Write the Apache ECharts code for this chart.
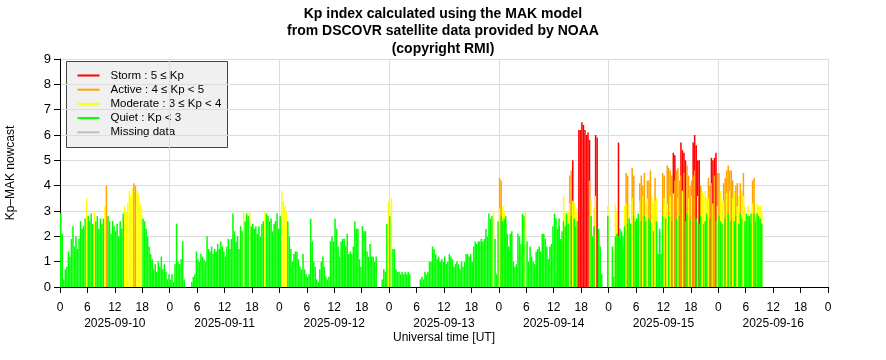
<!DOCTYPE html>
<html><head><meta charset="utf-8">
<script src="https://cdn.jsdelivr.net/npm/echarts@6/dist/echarts.min.js"></script>
<style>html,body{margin:0;padding:0;background:#fff}#c{width:886px;height:360px}</style>
</head><body><div id="c"></div>
<script>
// Kp-MAK nowcast, 20-minute bins (3 per hour), one array per UT day; null = no data
const dayLabels = ['2025-09-10','2025-09-11','2025-09-12','2025-09-13','2025-09-14','2025-09-15','2025-09-16'];
const hourTickLabels = ['0','6','12','18'];
const binsPerHour = 3;

// highest sample in each 20-minute bin
const kp_0910 = [
2.9,2.1,0.3, 0.7,0.8,1.4, 1.2,1.9,2.4, 1.6,2.0,1.5, 1.9,2.6,2.3, 2.4,2.7,3.5,
2.8,2.6,2.9, 2.5,3.0,2.6, 2.8,2.3,2.7, 2.5,2.7,3.2, 4.0,2.8,2.6, 2.1,2.6,2.4,
2.2,2.5,2.0, 2.6,2.3,2.9, 3.2,3.0,3.3, 3.8,3.6,3.9, 4.1,4.0,3.8, 3.7,3.3,3.1,
2.7,2.6,2.3, 2.0,1.6,1.3, 1.1,0.7,0.9, 0.6,1.0,0.8, 1.2,0.7,0.9, 0.6,0.3,0.5];
const kp_0911 = [
0.3,0.5,0.2, 0.9,2.5,1.0, 0.9,1.1,1.8, 0.3,null,null, null,null,0.2, 0.4,0.5,1.4,
1.1,1.0,1.3, 1.2,1.1,1.0, 2.0,1.5,1.4, 1.6,1.3,1.5, 1.4,1.7,1.5, 1.8,1.6,1.4,
1.2,1.6,1.9, 1.5,1.9,2.9, 2.2,1.8,2.0, 1.5,2.4,2.2, 3.0,2.6,2.9, 2.8,3.0,2.4,
2.5,2.3,2.4, 2.1,2.4,2.0, 2.5,2.6,3.0, 2.9,2.8,2.6, 2.7,2.2,2.5, 2.6,2.9,2.3];
const kp_0912 = [
2.8,3.8,3.4, 3.2,3.0,2.6, 2.0,1.5,1.0, 1.3,1.4,1.4, 1.1,0.8,0.7, 1.3,0.7,0.5,
0.4,0.5,2.7, 1.8,1.0,0.8, 0.3,0.2,0.7, 1.0,1.2,0.8, 0.4,0.3,0.4, 1.8,2.0,1.8,
2.7,2.3,1.6, 1.2,1.8,1.9, 1.9,1.6,2.1, 1.3,1.4,1.3, 1.6,2.6,2.3, 2.3,1.1,0.8,
2.4,2.2,2.2, 1.4,1.2,1.7, 1.2,1.2,1.0, 1.2,null,null, null,0.3,0.7, 0.6,2.5,3.4];
const kp_0913 = [
2.8,3.5,1.5, 1.5,0.7,0.6, 0.6,0.5,0.6, 0.5,0.6,0.5, 0.6,0.5,null, null,null,null,
null,null,0.3, 0.4,0.3,0.6, 0.5,0.6,1.0, 1.0,1.6,1.5, 1.3,1.1,1.2, 1.0,1.1,1.0,
1.2,0.9,1.0, 1.3,1.2,1.1, 0.8,0.9,1.0, 0.9,0.7,1.0, 0.8,1.0,1.3, 1.3,1.2,1.3,
1.0,1.6,1.8, 1.7,1.8,1.8, 1.9,1.8,1.9, 2.3,2.0,2.9, 2.7,2.8,3.0, 1.9,0.5,2.6];
const kp_0914 = [
4.3,4.2,3.2, 3.0,2.8,2.1, 1.6,2.1,2.2, 1.0,0.8,0.9, 2.1,2.0,1.7, 2.9,2.8,3.0,
1.8,1.0,1.6, 1.2,1.0,0.9, 1.4,1.5,1.6, 1.4,2.1,2.1, 1.9,1.6,1.1, 1.6,1.7,2.4,
2.9,2.7,2.3, 2.7,1.9,2.2, 3.6,3.0,2.9, 3.0,4.4,4.6, 5.0,3.3,3.0, 3.1,6.2,6.2,
6.5,6.4,6.2, 6.0,6.1,5.8, 3.5,2.0,3.1, 6.0,5.9,2.3, 1.6,0.5,null, null,null,3.2];
const kp_0915 = [
null,null,1.6, 0.4,3.3,3.0, 5.7,2.3,2.2, 2.0,3.2,4.5, 4.4,3.3,2.5, 4.7,4.4,3.0,
2.5,2.3,4.1, 4.4,4.0,4.5, 3.3,4.2,4.2, 4.6,3.6,3.3, 4.3,3.5,1.3, 2.3,1.3,4.5,
4.4,3.0,4.8, 4.7,4.6,4.4, 5.3,5.2,4.6, 4.7,4.2,5.7, 5.4,5.3,5.0, 4.8,4.4,4.0,
4.2,5.7,6.0, 5.6,5.0,5.0, 4.0,3.8,3.6, 3.8,3.5,4.3, 4.0,5.1,5.0, 5.1,5.3,4.5];
const kp_0916 = [
4.5,3.8,3.4, 4.1,4.3,4.6, 4.8,4.6,4.6, 4.2,3.8,4.0, 4.1,3.6,4.1, 3.8,4.5,3.2,
2.9,3.2,2.8, 2.9,4.2,4.3, 3.0,3.3,3.2, 3.2,3.0];

// last sample in each bin (drawn over the bin's highest sample); null = same as highest
const kpLast_0914 = [
3.1,2.8,2.6, 2.7,2.5,null, null,null,null, null,null,null, null,null,null, null,null,null,
null,null,null, null,null,null, null,null,null, null,null,null, null,null,null, null,null,null,
null,null,null, 2.4,null,1.8, 2.6,2.4,2.2, 2.5,3.3,2.8, 3.4,2.7,2.4, 2.6,null,null,
null,null,null, null,null,4.2, 2.8,null,2.4, 3.6,null,null, null,null,null, null,null,2.8];
const kpLast_0915 = [
null,null,null, null,2.0,2.1, 2.0,1.9,2.1, 1.6,2.4,3.3, 2.5,2.7,null, 3.5,2.8,2.6,
2.7,2.9,3.4, 2.6,3.6,2.8, 2.6,3.5,2.7, 2.6,3.3,2.2, 3.4,2.6,null, 2.2,null,2.8,
3.5,2.7,3.3, 2.8,3.6,2.6, 3.7,4.2,2.7, 3.5,2.8,4.4, 3.8,4.5,2.6, 2.9,3.5,2.7,
3.6,4.4,4.6, 2.7,3.6,2.5, 2.8,3.3,2.5, 2.6,2.9,3.5, 2.7,4.1,3.3, 4.4,2.6,3.2];
const kpLast_0916 = [
2.8,2.6,2.5, 3.4,2.7,3.7, 2.9,3.8,2.6, 3.5,2.6,2.8, 3.2,2.5,2.9, 2.7,3.6,2.6,
2.2,2.8,2.4, 2.5,3.3,2.9, 2.6,2.9,2.8, 2.7,2.5];

const dailyKp = [kp_0910, kp_0911, kp_0912, kp_0913, kp_0914, kp_0915, kp_0916];
const dailyKpLast = [[], [], [], [], kpLast_0914, kpLast_0915, kpLast_0916];

const levelColors = { storm:'#ff0000', active:'#ffa500', moderate:'#ffff00', quiet:'#00ff00', missing:'#bebebe' };
function kpColor(v){
  if (v >= 5) return levelColors.storm;
  if (v >= 4) return levelColors.active;
  if (v >= 3) return levelColors.moderate;
  return levelColors.quiet;
}

const binH = 1 / binsPerHour;
const points = [];
dailyKp.forEach((arr, d) => {
  arr.forEach((v, i) => {
    if (v === null) return;
    const last = dailyKpLast[d][i];
    points.push([d * 24 + (i + 0.5) * binH, v, (last === undefined || last === null) ? '-' : last]);
  });
});

const chart = echarts.init(document.getElementById('c'), null, {renderer:'canvas'});
const FONT = 'Liberation Sans, Arial, Helvetica, sans-serif';

const legendItems = [
  ['Storm : 5 \u2264 Kp', levelColors.storm],
  ['Active : 4 \u2264 Kp < 5', levelColors.active],
  ['Moderate : 3 \u2264 Kp < 4', levelColors.moderate],
  ['Quiet : Kp < 3', levelColors.quiet],
  ['Missing data', levelColors.missing]
];
const legendChildren = [{
  type:'rect', shape:{x:0, y:0, width:161, height:86},
  style:{fill:'#f0f0f0', stroke:'#444', lineWidth:1}
}];
legendItems.forEach((it, k) => {
  const y = 14 + k * 14.2;
  legendChildren.push({type:'line', shape:{x1:11, y1:y, x2:33, y2:y}, style:{stroke:it[1], lineWidth:2}});
  legendChildren.push({type:'text', x:44, y:y, style:{text:it[0], fill:'#000', font:'11.5px ' + FONT, textVerticalAlign:'middle'}});
});

chart.setOption({
  animation:false,
  backgroundColor:'#fff',
  title:{
    text:'Kp index calculated using the MAK model\nfrom DSCOVR satellite data provided by NOAA\n(copyright RMI)',
    left:'center', top:0,
    textStyle:{fontFamily:FONT, fontSize:14, fontWeight:'bold', color:'#000', lineHeight:17.5}
  },
  grid:{left:60, right:58, top:59, bottom:73, outerBoundsMode:'none'},
  xAxis:[{
    type:'value', min:0, max:168, interval:6,
    axisLine:{lineStyle:{color:'#000', width:1}},
    axisTick:{inside:false, length:6, lineStyle:{color:'#000'}},
    axisLabel:{color:'#000', fontFamily:FONT, fontSize:12, margin:15,
      formatter:v => hourTickLabels[(v % 24) / 6]},
    splitLine:{show:true, lineStyle:{color:['#dcdcdc','rgba(0,0,0,0)','rgba(0,0,0,0)','rgba(0,0,0,0)'], width:1}},
    name:'Universal time [UT]', nameLocation:'middle', nameGap:45,
    nameTextStyle:{color:'#000', fontFamily:FONT, fontSize:12}
  },{
    type:'value', min:0, max:168, interval:12, position:'bottom',
    axisLine:{show:false}, axisTick:{show:false}, splitLine:{show:false},
    axisLabel:{color:'#000', fontFamily:FONT, fontSize:12, margin:31,
      formatter:v => (v % 24 === 12) ? dayLabels[(v - 12) / 24] : ''}
  }],
  yAxis:{
    type:'value', min:0, max:9, interval:1,
    axisLine:{show:true, lineStyle:{color:'#000', width:1}},
    axisTick:{show:true, inside:false, length:6, lineStyle:{color:'#000'}},
    axisLabel:{color:'#000', fontFamily:FONT, fontSize:13, margin:9},
    splitLine:{show:true, lineStyle:{color:'#dcdcdc', width:1}},
    name:'Kp\u2013MAK nowcast', nameLocation:'middle', nameGap:43,
    nameTextStyle:{color:'#000', fontFamily:FONT, fontSize:12}
  },
  graphic:[{type:'group', left:66, top:61, children:legendChildren, z:100}],
  series:[{
    type:'custom', xAxisIndex:0, yAxisIndex:0, clip:true,
    data:points,
    dimensions:['t','kp','last'],
    encode:{x:0, y:1},
    renderItem:function(params, api){
      const x = api.value(0), v = api.value(1), last = api.value(2);
      const p0 = api.coord([x - binH/2, v]);
      const p1 = api.coord([x + binH/2, 0]);
      const children = [{type:'rect', shape:{x:p0[0], y:p0[1], width:p1[0]-p0[0], height:p1[1]-p0[1]},
        style:{fill:kpColor(v)}}];
      if (last !== null && last !== undefined && !isNaN(last)) {
        const q0 = api.coord([x - binH/2, last]);
        children.push({type:'rect', shape:{x:q0[0], y:q0[1], width:p1[0]-q0[0], height:p1[1]-q0[1]},
          style:{fill:kpColor(last)}});
      }
      return {type:'group', children:children};
    }
  }]
});
</script></body></html>
